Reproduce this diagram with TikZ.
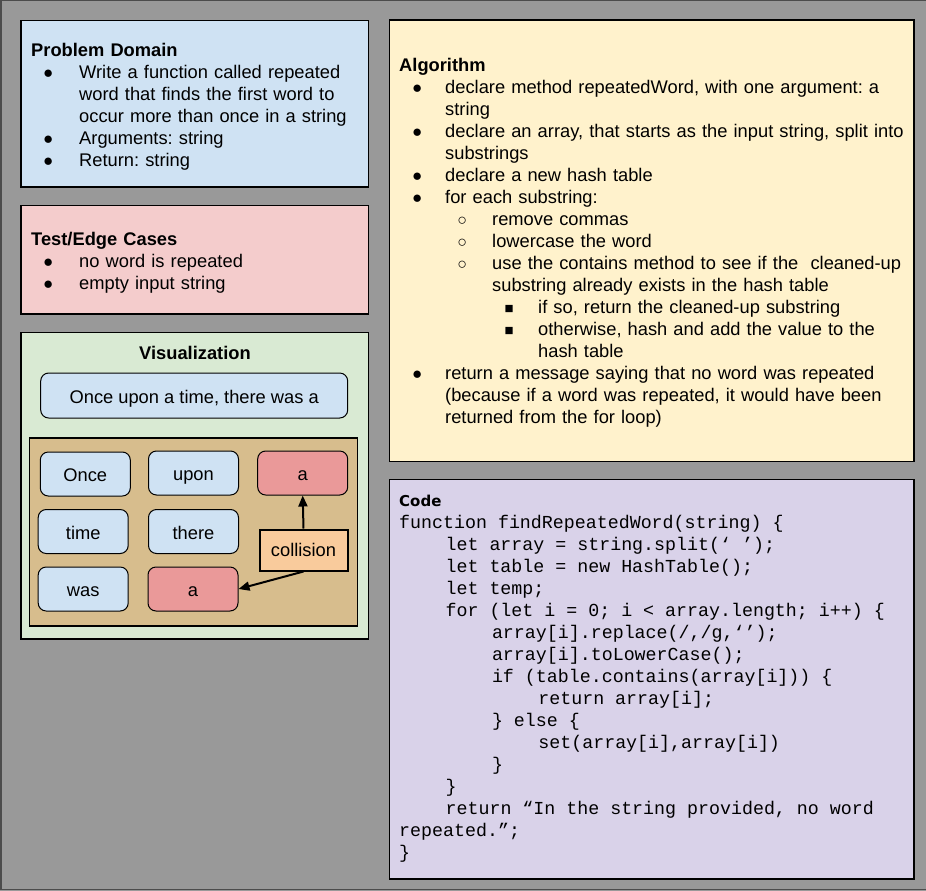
\documentclass[tikz,border=0pt]{standalone}
\usepackage{fontspec}
\setmainfont{Liberation Sans}
\setmonofont{Liberation Mono}
\newfontfamily\codehead{DejaVu Sans}
\usetikzlibrary{arrows.meta}

\definecolor{bggray}{HTML}{999999}
\definecolor{pdblue}{HTML}{CFE2F3}
\definecolor{tcred}{HTML}{F4CCCC}
\definecolor{vizgreen}{HTML}{D9EAD3}
\definecolor{algyellow}{HTML}{FFF2CC}
\definecolor{codepurple}{HTML}{D9D2E9}
\definecolor{bucket}{HTML}{D7BD8D}
\definecolor{hitred}{HTML}{EA9999}
\definecolor{collorange}{HTML}{F9CB9C}

% list marks: centre of the mark, start of the text
\newcommand\itm[3]{\hspace*{#1pt}\makebox[0pt]{#3}\hspace*{\dimexpr#2pt-#1pt\relax}}
\newcommand\dotsym{\raisebox{0pt}{\fontsize{17}{17}\selectfont ●}}
\newcommand\ringsym{\raisebox{0.3pt}{\fontsize{16}{16}\selectfont ○}}
\newcommand\boxsym{\raisebox{0.5pt}{\fontsize{15}{15}\selectfont ■}}
\newcommand\pbul{\itm{17}{48}{\dotsym}}
\newcommand\pcont{\hspace*{48pt}}
\newcommand\aone{\itm{18}{46}{\dotsym}}
\newcommand\atwo{\itm{63}{93}{\ringsym}}
\newcommand\athree{\itm{110}{139}{\boxsym}}
\newcommand\tb{\hspace*{46.4pt}}

\tikzset{
  panel/.style={draw=black, line width=1.3pt},
  body/.style={font=\fontsize{18.3}{22}\selectfont\frenchspacing, inner sep=0pt, align=left},
  word/.style={draw=black, line width=1pt, rounded corners=8pt, inner sep=0pt,
    minimum width=90pt, minimum height=44pt, text height=15pt, text depth=0pt,
    font=\fontsize{18.3}{22}\selectfont},
  hit/.style={line width=2pt, -{Triangle[length=11pt,width=9pt]}}
}

\begin{document}
\begin{tikzpicture}[x=1pt, y=-1pt]
  \useasboundingbox (0,0) rectangle (926,891);
  \fill[bggray] (0,0) rectangle (926,891);
  \draw[line width=1.5pt, black!70] (926,889.5) -- (0.75,889.5) -- (0.75,0.75) -- (926,0.75);

  % panels
  \filldraw[panel, fill=pdblue] (21,20.7) rectangle (368.7,187);
  \filldraw[panel, fill=tcred] (21,205.7) rectangle (368.7,314);
  \filldraw[panel, fill=vizgreen] (21,332.7) rectangle (368.7,639);
  \filldraw[panel, fill=bucket] (29.3,438) rectangle (357.7,626);
  \filldraw[panel, fill=algyellow] (389.3,20) rectangle (914,461.7);
  \filldraw[panel, fill=codepurple] (389.3,479.3) rectangle (914,879);

  % problem domain
  \node[body, anchor=base west, text width=330pt] (pdtext) at (31,56.7) {%
    \textbf{Problem Domain}\\
    \pbul Write a function called repeated\\
    \pcont word that finds the first word to\\
    \pcont occur more than once in a string\\
    \pbul Arguments: string\\
    \pbul Return: string};

  % test / edge cases
  \node[body, anchor=base west, text width=330pt] (tctext) at (31,245) {%
    \textbf{Test/Edge Cases}\\
    \pbul no word is repeated\\
    \pbul empty input string};

  % visualization
  \node[body, font=\fontsize{18.3}{22}\selectfont\bfseries, anchor=base] (viztitle) at (195,359.3) {Visualization};
  \node[word, fill=pdblue, minimum width=307pt, minimum height=45pt] (sentence) at (194.2,395.5) {Once upon a time, there was a};

  \node[word, fill=pdblue] (once) at (85.3,474) {Once};
  \node[word, fill=pdblue] (upon) at (193.5,473) {upon};
  \node[word, fill=hitred] (hita) at (302.7,473) {a};
  \node[word, fill=pdblue] (time) at (83.2,531.5) {time};
  \node[word, fill=pdblue] (there) at (193.5,531.5) {there};
  \node[word, fill=pdblue] (was) at (83.2,589) {was};
  \node[word, fill=hitred] (hitb) at (193,589) {a};
  \node[draw=black, line width=2pt, fill=collorange, inner sep=0pt, minimum width=88pt,
    minimum height=41pt, font=\fontsize{18.3}{22}\selectfont] (coll) at (303.5,550) {collision};

  \draw[hit] (coll.north) -- (hita.south);
  \draw[hit] (coll.south) -- (hitb.east);

  % algorithm
  \node[body, anchor=base west, text width=510pt] (algtext) at (399,71.7) {%
    \textbf{Algorithm}\\
    \aone declare method repeatedWord, with one argument: a\\
    \hspace*{46pt}string\\
    \aone declare an array, that starts as the input string, split into\\
    \hspace*{46pt}substrings\\
    \aone declare a new hash table\\
    \aone for each substring:\\
    \atwo remove commas\\
    \atwo lowercase the word\\
    \atwo use the contains method to see if the\ \ cleaned-up\\
    \hspace*{93pt}substring already exists in the hash table\\
    \athree if so, return the cleaned-up substring\\
    \athree otherwise, hash and add the value to the\\
    \hspace*{139pt}hash table\\
    \aone return a message saying that no word was repeated\\
    \hspace*{46pt}(because if a word was repeated, it would have been\\
    \hspace*{46pt}returned from the for loop)};

  % code
  \node[body, anchor=base west, text width=515pt] (codetext) at (399,506.7) {%
    {\codehead\bfseries\fontsize{15}{22}\selectfont Code}\\
    \ttfamily\spaceskip=10.98pt\xspaceskip=10.98pt
    function findRepeatedWord(string) \{\\
    \tb let array = string.split(‘ ’);\\
    \tb let table = new HashTable();\\
    \tb let temp;\\
    \tb for (let i = 0; i < array.length; i++) \{\\
    \tb\tb array[i].replace(/,/g,‘’);\\
    \tb\tb array[i].toLowerCase();\\
    \tb\tb if (table.contains(array[i])) \{\\
    \tb\tb\tb return array[i];\\
    \tb\tb \} else \{\\
    \tb\tb\tb set(array[i],array[i])\\
    \tb\tb \}\\
    \tb \}\\
    \tb return “In the string provided, no word\\
    repeated.”;\\
    \}};
\end{tikzpicture}
\end{document}
